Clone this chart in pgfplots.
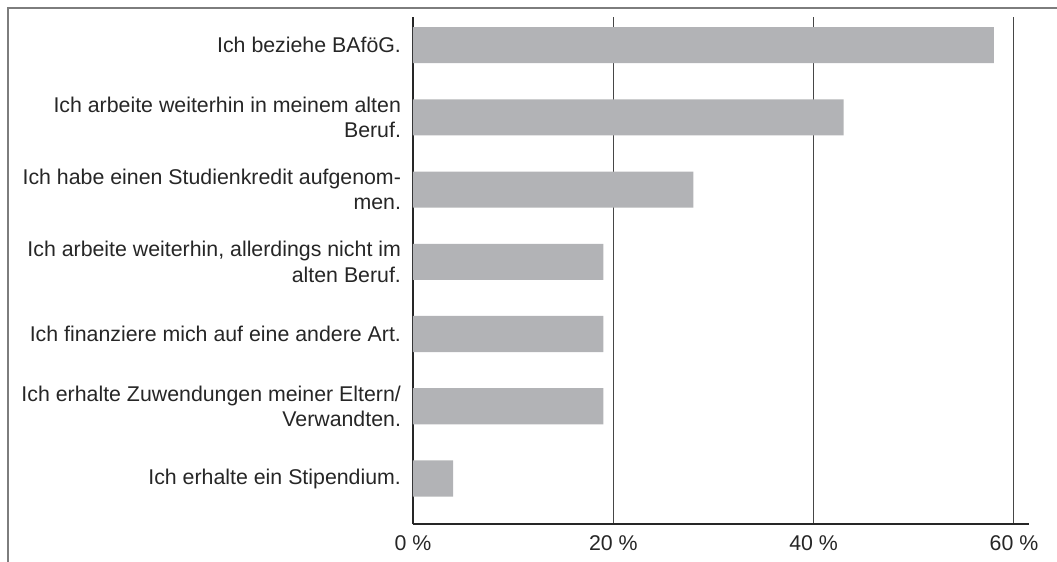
\documentclass[border=0pt]{standalone}
\usepackage{fontspec}
\setmainfont{Liberation Sans}
\usepackage{pgfplots}
\pgfplotsset{compat=1.18}
\definecolor{barfill}{RGB}{178,179,182}
\definecolor{gridc}{RGB}{70,70,70}
\definecolor{framec}{RGB}{125,125,125}
\begin{document}
\begin{tikzpicture}
\begin{axis}[
  name=ax,
  scale only axis,
  width=462pt, height=380.25pt,
  xbar, bar width=0.5,
  xmin=0, xmax=61.5,
  ymin=-0.63, ymax=6.39,
  axis lines=left,
  axis line style={-, line width=2pt, black!85},
  xtick={0,20,40,60},
  xticklabels={0 \%,20 \%,40 \%,60 \%},
  ytick={0,...,6},
  yticklabels={
    {Ich erhalte ein Stipendium.},
    {Ich erhalte Zuwendungen meiner Eltern/\\Verwandten.},
    {Ich finanziere mich auf eine andere Art.},
    {Ich arbeite weiterhin, allerdings nicht im\\alten Beruf.},
    {Ich habe einen Studienkredit aufgenom-\\men.},
    {Ich arbeite weiterhin in meinem alten\\Beruf.},
    {Ich beziehe BAföG.}},
  major tick length=0pt,
  xmajorgrids, grid style={gridc, line width=0.75pt},
  tick label style={font=\fontsize{16}{19}\selectfont, text=black!85},
  y tick label style={align=right, xshift=-5.5pt},
  x tick label style={yshift=-5pt},
]
\addplot[fill=barfill, draw=none] coordinates {(58,6) (43,5) (28,4) (19,3) (19,2) (19,1) (4,0)};
\end{axis}
\begin{scope}[shift={(ax.south west)}, x=0.75pt, y=-0.75pt]
  \draw[framec, line width=1.5pt] (-405,40) -- (-405,-516) -- (650,-516);
  \pgfresetboundingbox
  \useasboundingbox (-413,-524) rectangle (644,37);
\end{scope}
\end{tikzpicture}
\end{document}
